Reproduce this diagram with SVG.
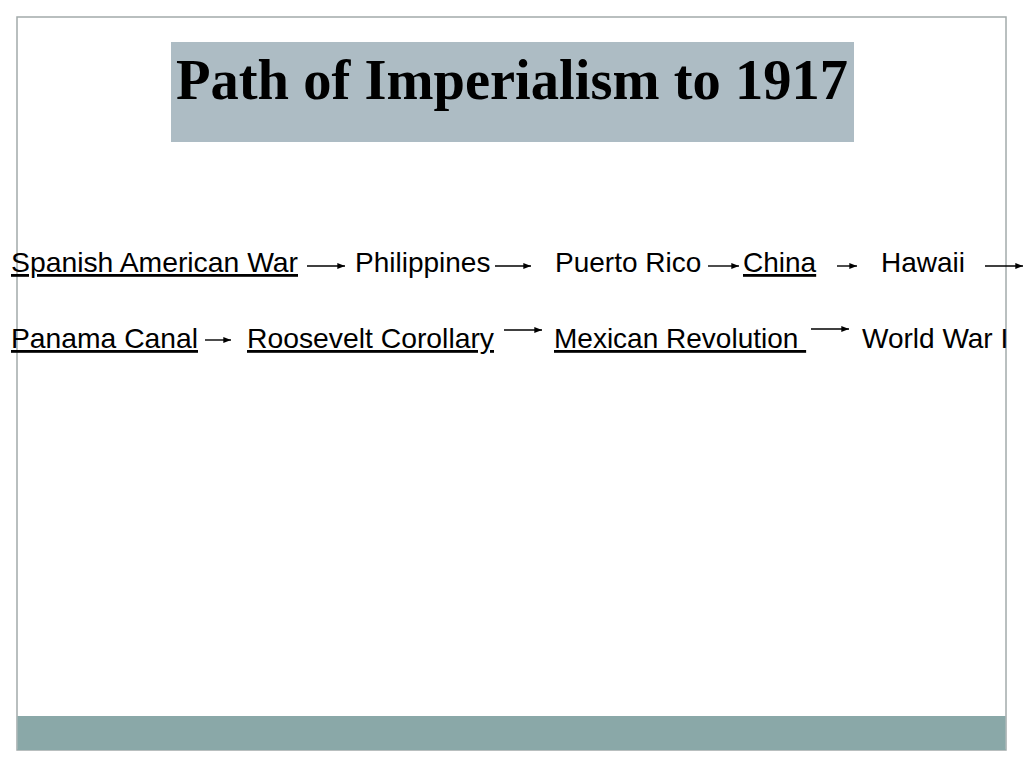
<svg xmlns="http://www.w3.org/2000/svg" width="1024" height="768" viewBox="0 0 1024 768">
<defs>
<style>
.lbl{font-family:"Liberation Sans",Arial,sans-serif;font-size:28px;fill:#000}
.u{text-decoration:underline}
.title{font-family:"Liberation Serif","Times New Roman",serif;font-size:58px;font-weight:bold;fill:#000}
.conn line{stroke:#000;stroke-width:1.4;marker-end:url(#ah)}
</style>
<marker id="ah" viewBox="0 0 10 10" refX="10" refY="5" markerWidth="5.5" markerHeight="5.5" markerUnits="strokeWidth" orient="auto">
<path d="M0,1 L10,5 L0,9 Z" fill="#000"/>
</marker>
</defs>
<rect x="0" y="0" width="1024" height="768" fill="#fff"/>
<rect x="17" y="17" width="989" height="733" fill="#fff" stroke="#a3abab" stroke-width="1.5"/>
<rect x="17.5" y="716" width="988" height="34" fill="#8aa8a8"/>
<g id="title">
<rect x="171" y="42" width="683" height="100" fill="#adbcc4"/>
<text class="title" x="176" y="99" textLength="672" lengthAdjust="spacingAndGlyphs">Path of Imperialism to 1917</text>
</g>
<g id="spanish-american-war"><text class="lbl u" x="11" y="272" textLength="287" lengthAdjust="spacingAndGlyphs">Spanish American War</text></g>
<g id="philippines"><text class="lbl" x="355" y="272">Philippines</text></g>
<g id="puerto-rico"><text class="lbl" x="555" y="272">Puerto Rico</text></g>
<g id="china"><text class="lbl u" x="743" y="272">China</text></g>
<g id="hawaii"><text class="lbl" x="881" y="272">Hawaii</text></g>
<g id="panama-canal"><text class="lbl u" x="11" y="348" textLength="187" lengthAdjust="spacingAndGlyphs">Panama Canal</text></g>
<g id="roosevelt-corollary"><text class="lbl u" x="247" y="348" textLength="247" lengthAdjust="spacingAndGlyphs">Roosevelt Corollary</text></g>
<g id="mexican-revolution"><text class="lbl u" x="554" y="348" xml:space="preserve">Mexican Revolution </text></g>
<g id="world-war-i"><text class="lbl" x="862" y="348">World War I</text></g>
<g id="connectors" class="conn">
<line x1="307" y1="266" x2="345" y2="266"/>
<line x1="495" y1="266" x2="531" y2="266"/>
<line x1="708" y1="266" x2="739" y2="266"/>
<line x1="837" y1="266" x2="857" y2="266"/>
<line x1="985" y1="266" x2="1023" y2="266"/>
<line x1="205" y1="340" x2="231" y2="340"/>
<line x1="504" y1="330" x2="542" y2="330"/>
<line x1="811" y1="329" x2="849" y2="329"/>
</g>
</svg>
